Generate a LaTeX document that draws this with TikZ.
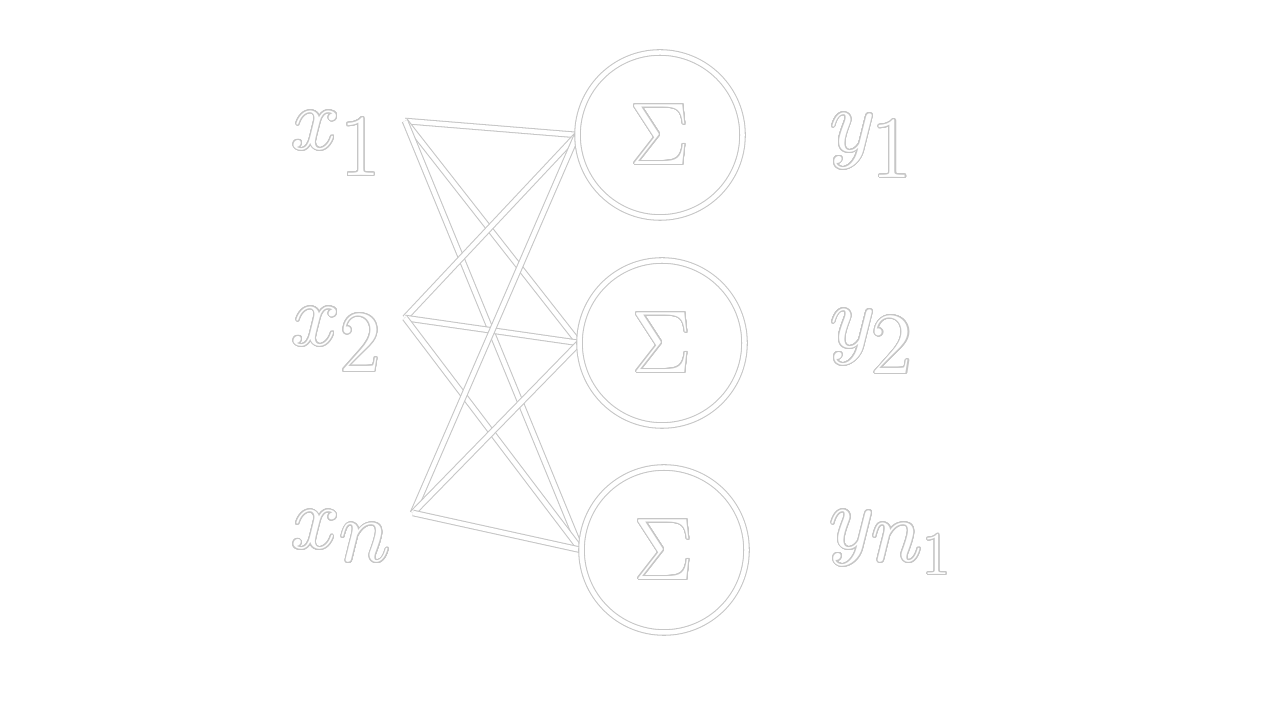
\documentclass[tikz,border=0pt]{standalone}
\usepackage{contour}
\usetikzlibrary{backgrounds}
\contourlength{0.3pt}
\contournumber{32}
\colorlet{rim}{gray!45}
\newcommand{\hollow}[1]{\contour{rim}{\textcolor{white}{#1}}}
\tikzset{
  wire/.style={draw=rim, line width=0.3pt, double=white, double distance=0.45mm},
  sumnode/.style={circle, draw=rim, line width=0.3pt, double=white,
    double distance=0.45mm, minimum size=1.65cm, inner sep=0pt,
    font=\fontsize{28}{32}\selectfont},
  lab/.style={inner sep=0pt, font=\fontsize{34}{38}\selectfont}
}
\begin{document}
\begin{tikzpicture}
  \useasboundingbox (0,0) rectangle (12.8,7.2);
  % inputs
  \node[lab] (x1) at (3.37,5.76) {\hollow{$x_1$}};
  \node[lab] (x2) at (3.37,3.80) {\hollow{$x_2$}};
  \node[lab] (xn) at (3.42,1.83) {\hollow{$x_n$}};
  \coordinate (in1) at (4.05,5.99);
  \coordinate (in2) at (4.05,4.02);
  \coordinate (in3) at (4.13,2.07);
  % summing units
  \node[sumnode] (s1) at (6.60,5.85) {\hollow{$\Sigma$}};
  \node[sumnode] (s2) at (6.62,3.77) {\hollow{$\Sigma$}};
  \node[sumnode] (s3) at (6.64,1.70) {\hollow{$\Sigma$}};
  % outputs
  \node[lab] (y1) at (8.72,5.74) {\hollow{$y_1$}};
  \node[lab] (y2) at (8.72,3.78) {\hollow{$y_2$}};
  \node[lab] (yn) at (8.92,1.77) {\hollow{$y_{n_1}$}};
  \begin{scope}[on background layer]
    \foreach \i in {in1,in2,in3}
      \foreach \j in {s1,s2,s3}
        \draw[wire] (\i) -- (\j.west);
  \end{scope}
\end{tikzpicture}
\end{document}
